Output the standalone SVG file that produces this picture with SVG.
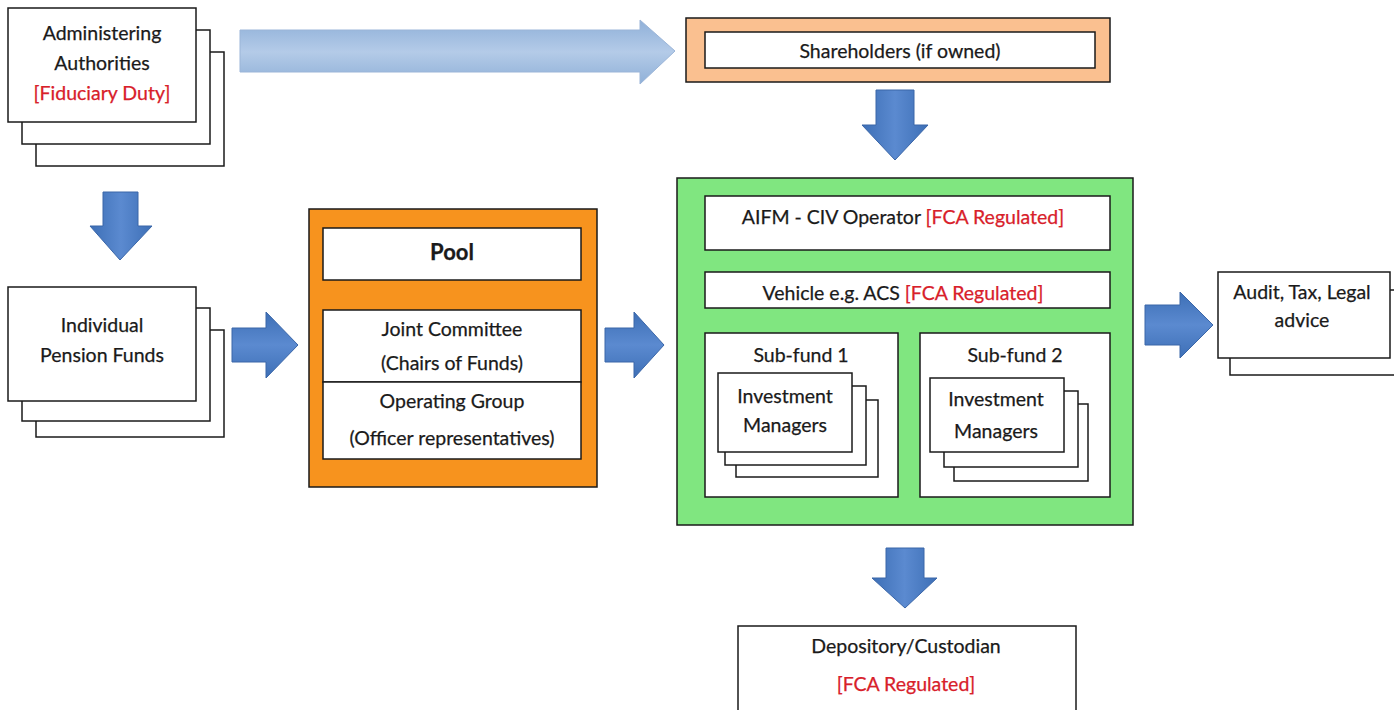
<svg xmlns="http://www.w3.org/2000/svg" width="1394" height="710" viewBox="0 0 1394 710">
<defs>
<linearGradient id="gv" x1="0" y1="0" x2="1" y2="0">
<stop offset="0" stop-color="#3d6fb6"/><stop offset="0.5" stop-color="#5b8ad0"/><stop offset="1" stop-color="#3d6fb6"/>
</linearGradient>
<linearGradient id="gh" x1="0" y1="0" x2="0" y2="1">
<stop offset="0" stop-color="#3d6fb6"/><stop offset="0.5" stop-color="#5b8ad0"/><stop offset="1" stop-color="#3d6fb6"/>
</linearGradient>
<linearGradient id="gl" x1="0" y1="0" x2="0" y2="1">
<stop offset="0" stop-color="#8fb0d8"/><stop offset="0.5" stop-color="#b4cbe8"/><stop offset="1" stop-color="#8fb0d8"/>
</linearGradient>
</defs>
<style>
text{font-family:Lato,"Liberation Sans",sans-serif;font-size:19.5px;fill:#1a1a1a;text-anchor:middle;dominant-baseline:central;stroke:#1a1a1a;stroke-width:0.25}
.r{fill:#d8202a;stroke:#d8202a}
.b{fill:#fff;stroke:#1a1a1a;stroke-width:1.5}
.arr{fill:url(#gv);stroke:#3a66a8;stroke-width:1}
.arh{fill:url(#gh);stroke:#3a66a8;stroke-width:1}
</style>
<rect width="1394" height="710" fill="#fff"/>
<g id="connectors">
<path class="arh" d="M240,30 H640 V20 L675,51 L640,84 V72 H240 Z" style="fill:url(#gl);stroke:#9bb5d8"/>
<path class="arr" d="M103,192 H138 V226 H152 L120,260 L90,226 H103 Z"/>
<path class="arr" d="M876,90 H914 V125 H928 L895,160 L862,125 H876 Z"/>
<path class="arr" d="M886,548 H924 V578 H937 L905,608 L872,578 H886 Z"/>
<path class="arh" d="M232,328 H266 V312 L298,345 L266,378 V362 H232 Z"/>
<path class="arh" d="M605,328 H634 V312 L664,345 L634,378 V362 H605 Z"/>
<path class="arh" d="M1145,305 H1180 V292 L1213,325 L1180,358 V345 H1145 Z"/>
</g>
<g id="admin">
<rect class="b" x="36" y="52" width="188" height="114"/>
<rect class="b" x="22" y="30" width="188" height="114"/>
<rect class="b" x="8" y="8" width="188" height="114"/>
<text x="102" y="32">Administering</text>
<text x="102" y="62">Authorities</text>
<text x="102" y="92" class="r">[Fiduciary Duty]</text>
</g>
<g id="shareholders">
<rect x="686" y="18" width="424" height="64" fill="#fac090" stroke="#1a1a1a" stroke-width="1.5"/>
<rect class="b" x="705" y="32" width="390" height="36"/>
<text x="900" y="50">Shareholders (if owned)</text>
</g>
<g id="pension">
<rect class="b" x="36" y="330" width="188" height="107"/>
<rect class="b" x="22" y="308" width="188" height="113"/>
<rect class="b" x="8" y="287" width="188" height="114"/>
<text x="102" y="324">Individual</text>
<text x="102" y="354">Pension Funds</text>
</g>
<g id="pool">
<rect x="309" y="209" width="288" height="278" fill="#f7931e" stroke="#1a1a1a" stroke-width="1.5"/>
<rect class="b" x="323" y="228" width="258" height="52"/>
<text x="452" y="251" style="font-size:22px;font-weight:bold">Pool</text>
<rect class="b" x="323" y="310" width="258" height="72"/>
<text x="452" y="328">Joint Committee</text>
<text x="452" y="362">(Chairs of Funds)</text>
<rect class="b" x="323" y="382" width="258" height="77"/>
<text x="452" y="400">Operating Group</text>
<text x="452" y="437">(Officer representatives)</text>
</g>
<g id="civ">
<rect x="677" y="178" width="456" height="347" fill="#80e680" stroke="#1a1a1a" stroke-width="1.5"/>
<rect class="b" x="705" y="196" width="405" height="54"/>
<text x="903" y="216"><tspan>AIFM - CIV Operator </tspan><tspan class="r">[FCA Regulated]</tspan></text>
<rect class="b" x="705" y="272" width="405" height="36"/>
<text x="903" y="292"><tspan>Vehicle e.g. ACS </tspan><tspan class="r">[FCA Regulated]</tspan></text>
</g>
<g id="subfund1">
<rect class="b" x="705" y="333" width="193" height="164"/>
<text x="801" y="354">Sub-fund 1</text>
<rect class="b" x="736" y="400" width="142" height="77"/>
<rect class="b" x="725" y="386" width="141" height="79"/>
<rect class="b" x="718" y="373" width="134" height="79"/>
<text x="785" y="395">Investment</text>
<text x="785" y="424">Managers</text>
</g>
<g id="subfund2">
<rect class="b" x="920" y="333" width="190" height="164"/>
<text x="1015" y="354">Sub-fund 2</text>
<rect class="b" x="954" y="404" width="134" height="77"/>
<rect class="b" x="944" y="391" width="134" height="76"/>
<rect class="b" x="930" y="378" width="134" height="74"/>
<text x="996" y="398">Investment</text>
<text x="996" y="430">Managers</text>
</g>
<g id="audit">
<rect class="b" x="1230" y="290" width="170" height="85"/>
<rect class="b" x="1218" y="272" width="172" height="86"/>
<text x="1302" y="291">Audit, Tax, Legal</text>
<text x="1302" y="319">advice</text>
</g>
<g id="depository">
<rect class="b" x="738" y="626" width="338" height="100"/>
<text x="906" y="645">Depository/Custodian</text>
<text x="906" y="683" class="r">[FCA Regulated]</text>
</g>
</svg>
